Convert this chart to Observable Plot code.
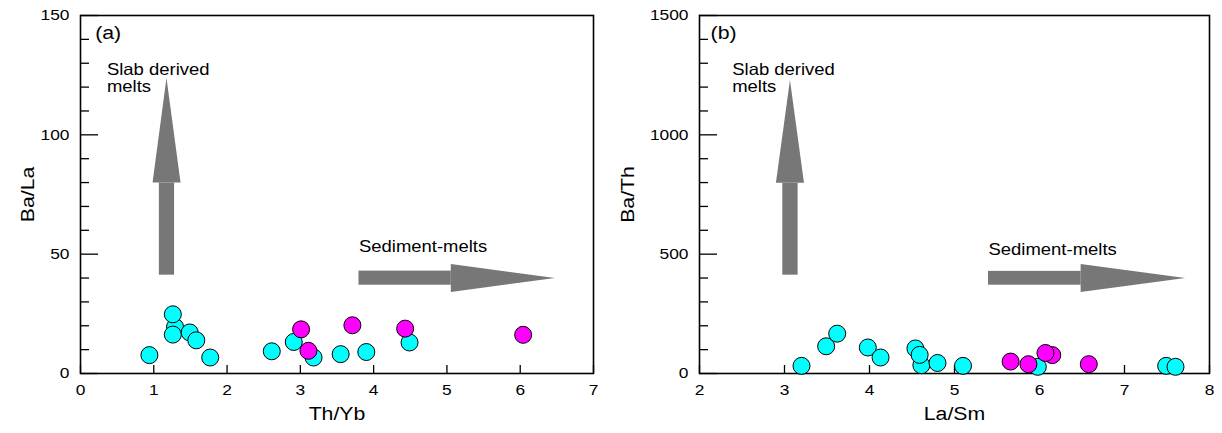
<!DOCTYPE html>
<html>
<head>
<meta charset="utf-8">
<script src="https://cdn.jsdelivr.net/npm/d3@7"></script>
<script src="https://cdn.jsdelivr.net/npm/@observablehq/plot@0.6"></script>
<style>
  html, body { margin: 0; padding: 0; background: white; }
  #wrap { display: flex; width: 1222px; height: 433px; }
  #wrap > div { width: 611px; height: 433px; }
</style>
</head>
<body>
<div id="wrap"><div id="pa"></div><div id="pb"></div></div>
<script>
// ---------- Panel (a): Th/Yb vs Ba/La ----------
const thybCyan = [0.94, 1.29, 1.26, 1.26, 1.49, 1.58, 1.77, 2.61, 2.91, 3.18, 3.55, 3.90, 4.49];
const balaCyan = [7.7, 19.5, 24.8, 16.3, 17.2, 13.9, 6.7, 9.3, 13.2, 6.7, 8.1, 9.0, 13.0];
const thybMagenta = [3.01, 3.11, 3.71, 4.43, 6.04];
const balaMagenta = [18.5, 9.5, 20.2, 18.8, 16.2];

// ---------- Panel (b): La/Sm vs Ba/Th ----------
const lasmCyan = [3.20, 3.49, 3.62, 3.98, 4.13, 4.54, 4.61, 4.59, 4.80, 5.10, 5.98, 7.49, 7.60];
const bathCyan = [32, 114, 167, 109, 67, 105, 35, 78, 44, 32, 28, 32, 28];
const lasmMagenta = [5.66, 5.87, 6.15, 6.07, 6.58];
const bathMagenta = [50, 39, 77, 86, 39];

// ---------- axes ticks ----------
const xTicksA = [0, 1, 2, 3, 4, 5, 6, 7];
const yLabelsA = [0, 50, 100, 150];
const yMinorA = [10, 20, 30, 40, 60, 70, 80, 90, 110, 120, 130, 140];
const xTicksB = [2, 3, 4, 5, 6, 7, 8];
const yLabelsB = [0, 500, 1000, 1500];
const yMinorB = [100, 200, 300, 400, 600, 700, 800, 900, 1100, 1200, 1300, 1400];

// ---------- annotation arrows (data units) ----------
const shaftVA = [{x1: 1.076, x2: 1.284, y1: 41.2, y2: 79.8}];
const headVA = [{x: 0.99, y1: 79.8, y2: 79.8}, {x: 1.18, y1: 79.8, y2: 123.6}, {x: 1.372, y1: 79.8, y2: 79.8}];
const shaftHA = [{x1: 3.80, x2: 5.06, y1: 37.0, y2: 42.9}];
const headHA = [{y: 33.9, x1: 5.06, x2: 5.06}, {y: 39.8, x1: 5.06, x2: 6.48}, {y: 45.7, x1: 5.06, x2: 5.06}];

const shaftVB = [{x1: 2.98, x2: 3.16, y1: 412, y2: 797}];
const headVB = [{x: 2.905, y1: 797, y2: 797}, {x: 3.07, y1: 797, y2: 1228}, {x: 3.235, y1: 797, y2: 797}];
const shaftHB = [{x1: 5.40, x2: 6.49, y1: 370, y2: 428}];
const headHB = [{y: 339, x1: 6.49, x2: 6.49}, {y: 398, x1: 6.49, x2: 7.72}, {y: 457, x1: 6.49, x2: 6.49}];

// ---------- annotation texts ----------
const panelTagA = [{x: 0.2, y: 140, text: "(a)"}];
const noteA = [
  {x: 0.36, y: 125, text: "Slab derived"},
  {x: 0.36, y: 118, text: "melts"},
  {x: 3.80, y: 51, text: "Sediment-melts"}
];
const panelTagB = [{x: 2.13, y: 1400, text: "(b)"}];
const noteB = [
  {x: 2.385, y: 1250, text: "Slab derived"},
  {x: 2.385, y: 1180, text: "melts"},
  {x: 5.40, y: 497, text: "Sediment-melts"}
];

const CYAN = "#00FFFF", MAGENTA = "#FF00FF", ARROW = "#777777";
const FONT = "Liberation Sans, Arial, Helvetica, sans-serif";
const fmt = d3.format("d");

function toPts(xs, ys) { return xs.map((x, i) => ({x, y: ys[i]})); }

function panel({xDomain, yDomain, xTicks, yLabels, yMinor, cyan, magenta, shaftV, headV, shaftH, headH, tag, notes, xLabel, yLabel, marginLeft, marginRight, yLabelDx}) {
  return Plot.plot({
    width: 611, height: 433,
    marginTop: 15, marginBottom: 60, marginLeft, marginRight,
    style: {fontFamily: FONT, fontSize: "15.5px", color: "black", background: "white", overflow: "visible"},
    x: {domain: xDomain},
    y: {domain: yDomain},
    marks: [
      Plot.axisY({ticks: yLabels, tickSize: 0, tickPadding: 11, tickFormat: fmt, label: null, fontSize: 15.5}),
      Plot.axisY({ticks: yMinor, tickSize: -9, tickFormat: () => "", label: null, strokeWidth: 1.3}),
      Plot.axisY({ticks: yLabels, tickSize: -18, tickFormat: () => "", label: null, strokeWidth: 1.3}),
      Plot.axisX({ticks: xTicks, tickSize: 0, tickPadding: 10, tickFormat: fmt, label: null, fontSize: 15.5}),
      Plot.axisX({ticks: xTicks, tickSize: -8, tickFormat: () => "", label: null, strokeWidth: 1.3}),
      Plot.frame({stroke: "black", strokeWidth: 1.6}),
      Plot.rect(shaftV, {x1: "x1", x2: "x2", y1: "y1", y2: "y2", fill: ARROW}),
      Plot.areaY(headV, {x: "x", y1: "y1", y2: "y2", fill: ARROW}),
      Plot.rect(shaftH, {x1: "x1", x2: "x2", y1: "y1", y2: "y2", fill: ARROW}),
      Plot.areaX(headH, {y: "y", x1: "x1", x2: "x2", fill: ARROW}),
      Plot.text(tag, {x: "x", y: "y", text: "text", textAnchor: "start", lineAnchor: "bottom", fontSize: 19, fill: "black"}),
      Plot.text(notes, {x: "x", y: "y", text: "text", textAnchor: "start", lineAnchor: "bottom", fontSize: 16.5, fill: "black"}),
      Plot.text([yLabel], {text: d => d, frameAnchor: "left", dx: yLabelDx, rotate: -90, textAnchor: "middle", lineAnchor: "middle", fontSize: 19, fill: "black"}),
      Plot.text([xLabel], {text: d => d, frameAnchor: "bottom", dy: 40, textAnchor: "middle", lineAnchor: "middle", fontSize: 19, fill: "black"}),
      Plot.dot(cyan, {x: "x", y: "y", r: 8.5, fill: CYAN, stroke: "black", strokeWidth: 1}),
      Plot.dot(magenta, {x: "x", y: "y", r: 8.5, fill: MAGENTA, stroke: "black", strokeWidth: 1})
    ]
  });
}

// widen glyphs horizontally around each text's own anchor point
function stretchText(svg, s) {
  svg.querySelectorAll("text").forEach(t => {
    let tr = t.getAttribute("transform") || "";
    const x = t.getAttribute("x");
    if (x != null && !isNaN(+x)) { tr += ` translate(${+x},0)`; t.removeAttribute("x"); }
    t.setAttribute("transform", `${tr} scale(${s},1)`);
  });
}

const a = panel({
  xDomain: [0, 7], yDomain: [0, 150], xTicks: xTicksA, yLabels: yLabelsA, yMinor: yMinorA,
  cyan: toPts(thybCyan, balaCyan), magenta: toPts(thybMagenta, balaMagenta),
  shaftV: shaftVA, headV: headVA, shaftH: shaftHA, headH: headHA,
  tag: panelTagA, notes: noteA, xLabel: "Th/Yb", yLabel: "Ba/La",
  marginLeft: 80, marginRight: 18, yLabelDx: -53
});
const b = panel({
  xDomain: [2, 8], yDomain: [0, 1500], xTicks: xTicksB, yLabels: yLabelsB, yMinor: yMinorB,
  cyan: toPts(lasmCyan, bathCyan), magenta: toPts(lasmMagenta, bathMagenta),
  shaftV: shaftVB, headV: headVB, shaftH: shaftHB, headH: headHB,
  tag: panelTagB, notes: noteB, xLabel: "La/Sm", yLabel: "Ba/Th",
  marginLeft: 88, marginRight: 13, yLabelDx: -72
});
stretchText(a, 1.12);
stretchText(b, 1.12);
document.getElementById("pa").appendChild(a);
document.getElementById("pb").appendChild(b);
</script>
</body>
</html>
